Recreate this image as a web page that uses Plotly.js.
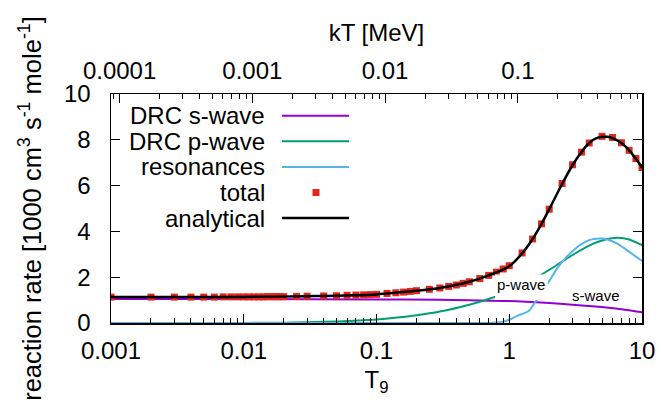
<!DOCTYPE html>
<html>
<head>
<meta charset="utf-8">
<script src="https://cdn.plot.ly/plotly-3.0.1.min.js"></script>
<style>html,body{margin:0;padding:0;background:#fff;}#chart{width:661px;height:403px;}</style>
</head>
<body>
<div id="chart"></div>
<script>
// ---- data ----
const sT9 = [0.001, 0.01, 0.1, 0.3, 0.5, 1, 2, 3, 5, 7, 10];
const sWave = [1.05, 1.05, 1.03, 1.01, 0.99, 0.96, 0.87, 0.80, 0.70, 0.60, 0.47];

const pT9 = [0.001, 0.005, 0.01, 0.02, 0.03, 0.05, 0.1, 0.2, 0.3, 0.5, 0.7, 1, 1.5, 2, 2.5, 3, 4, 5, 6.5, 8, 10];
const pWave = [0, 0.001, 0.005, 0.015, 0.03, 0.07, 0.15, 0.34, 0.5, 0.8, 1.05, 1.36, 1.88, 2.32, 2.68, 2.97, 3.38, 3.6, 3.72, 3.65, 3.40];

const rT9 = [0.001, 0.1, 0.5, 0.7, 0.8, 0.9, 1.0, 1.1, 1.2, 1.4, 1.6, 1.8, 2.0, 2.3, 2.7, 3.0, 3.4, 4.0, 4.5, 5.0, 5.5, 6.5, 8, 10];
const resonances = [0, 0, 0, 0.005, 0.02, 0.06, 0.14, 0.26, 0.36, 0.52, 0.99, 1.45, 1.83, 2.4, 2.88, 3.13, 3.40, 3.62, 3.68, 3.69, 3.65, 3.47, 3.11, 2.71];

const tT9 = [0.001, 0.002, 0.003, 0.004, 0.005, 0.006, 0.007, 0.008, 0.009,
  0.010, 0.011, 0.012, 0.013, 0.014, 0.015, 0.016, 0.017, 0.018, 0.019, 0.020,
  0.025, 0.03, 0.04, 0.05, 0.06, 0.07, 0.08, 0.09,
  0.10, 0.12, 0.14, 0.16, 0.18, 0.20, 0.25, 0.30, 0.35, 0.40, 0.45, 0.50, 0.60, 0.70, 0.80, 0.90,
  1.0, 1.25, 1.5, 1.75, 2.0, 2.5, 3.0, 3.5, 4.0, 5.0, 6.0, 7.0, 8.0, 9.0, 10.0];
const total = [1.13, 1.13, 1.13, 1.13, 1.13, 1.13, 1.14, 1.14, 1.14,
  1.14, 1.14, 1.14, 1.14, 1.14, 1.15, 1.15, 1.15, 1.15, 1.15, 1.15,
  1.16, 1.17, 1.18, 1.19, 1.21, 1.22, 1.23, 1.24,
  1.25, 1.29, 1.32, 1.35, 1.38, 1.41, 1.47, 1.53, 1.60, 1.66, 1.73, 1.80, 1.94, 2.08, 2.22, 2.36,
  2.50, 3.06, 3.67, 4.33, 4.97, 6.09, 6.91, 7.46, 7.86, 8.15, 8.10, 7.87, 7.54, 7.18, 6.79];

const aT9 = [0.001, 0.003, 0.01, 0.03, 0.1, 0.2, 0.3, 0.5, 0.7, 1, 1.25, 1.5, 1.75, 2, 2.5, 3, 3.5, 4, 4.5, 5, 5.5, 6, 7, 8, 9, 10];
const analytical = [1.13, 1.13, 1.14, 1.17, 1.25, 1.41, 1.53, 1.80, 2.08, 2.48, 3.04, 3.67, 4.33, 4.97, 6.07, 6.90, 7.47, 7.86, 8.06, 8.13, 8.13, 8.07, 7.86, 7.54, 7.17, 6.79];

const xTicks = [0.001, 0.01, 0.1, 1, 10];
const xTickText = ["0.001", "0.01", "0.1", "1", "10"];
const kTTicks = [0.0001, 0.001, 0.01, 0.1];
const kTTickText = ["0.0001", "0.001", "0.01", "0.1"];
const kTperT9 = 0.08617; // MeV per 10^9 K

const legendNames = ["DRC s-wave", "DRC p-wave", "resonances", "total", "analytical"];
const colors = {s: "#9400d3", p: "#009e73", r: "#56b4e9", t: "#e5261c", a: "#000000"};

// ---- minor tick lists ----
function minors(lo, hi) {
  const out = [];
  for (let e = lo; e <= hi; e++) for (let m = 2; m <= 9; m++) out.push(m * Math.pow(10, e));
  return out;
}
const xMinor = minors(-3, 0);
const kTMinor = [0.00009].concat(minors(-4, -1).filter(v => v < 0.862));

const FONT = "Liberation Sans, Arial, Helvetica, sans-serif";

const traces = [
  {x: sT9, y: sWave, mode: "lines", line: {color: colors.s, width: 2, shape: "spline", smoothing: 0.8}, name: legendNames[0]},
  {x: pT9, y: pWave, mode: "lines", line: {color: colors.p, width: 2, shape: "spline", smoothing: 0.8}, name: legendNames[1]},
  {x: rT9, y: resonances, mode: "lines", line: {color: colors.r, width: 2, shape: "spline", smoothing: 0.8}, name: legendNames[2]},
  {x: tT9, y: total, mode: "markers", marker: {symbol: "square", size: 7, color: colors.t}, name: legendNames[3]},
  {x: aT9, y: analytical, mode: "lines", line: {color: colors.a, width: 2.5, shape: "spline", smoothing: 0.8}, name: legendNames[4]},
  {x: tT9.map(v => v * kTperT9), y: total, xaxis: "x2", mode: "markers", marker: {opacity: 0}, hoverinfo: "skip", showlegend: false}
];

// custom gnuplot-style legend (text right-aligned, sample to the right)
const L = 111, W = 531, T = 94, H = 229;
const px = v => (v - L) / W;
const py = v => (T + H - v) / H;
const rowsY = [115.7, 141.3, 166.9, 192.5, 218.1];
const annotations = legendNames.map((n, i) => ({
  xref: "paper", yref: "paper", x: px(267), y: py(rowsY[i]), xanchor: "right", yanchor: "middle",
  text: n, showarrow: false, font: {family: FONT, size: 24, color: "#000"}
}));
annotations.push({x: Math.log10(1.23), y: 1.70, xref: "x", yref: "y", text: "p-wave", showarrow: false,
  font: {family: FONT, size: 15, color: "#000"}});
annotations.push({x: Math.log10(4.5), y: 1.18, xref: "x", yref: "y", text: "s-wave", showarrow: false,
  font: {family: FONT, size: 15, color: "#000"}});

const shapes = [
  [colors.s, 2], [colors.p, 2], [colors.r, 2]
].map((c, i) => ({type: "line", xref: "paper", yref: "paper", x0: px(282), x1: px(349), y0: py(rowsY[i]), y1: py(rowsY[i]), line: {color: c[0], width: c[1]}}));
shapes.push({type: "rect", xref: "paper", yref: "paper", x0: px(312.5), x1: px(319.5), y0: py(rowsY[3] + 3.5), y1: py(rowsY[3] - 3.5), fillcolor: colors.t, line: {width: 0}});
shapes.push({type: "line", xref: "paper", yref: "paper", x0: px(282), x1: px(349), y0: py(rowsY[4]), y1: py(rowsY[4]), line: {color: colors.a, width: 2.5}});
// white background behind the "p-wave" label
shapes.push({type: "rect", xref: "paper", yref: "paper", layer: "above", x0: px(495), x1: px(548), y0: py(300), y1: py(274.5), fillcolor: "#ffffff", line: {width: 0}});

const axisCommon = {showgrid: false, zeroline: false, showline: true, linecolor: "#000", linewidth: 1.5,
  ticks: "inside", ticklen: 9, tickwidth: 1, tickcolor: "#000", tickfont: {family: FONT, size: 24, color: "#000"}};

const layout = {
  width: 661, height: 403,
  margin: {l: L, r: 661 - L - W, t: T, b: 403 - T - H, pad: 0},
  paper_bgcolor: "#fff", plot_bgcolor: "#fff",
  showlegend: false,
  font: {family: FONT, color: "#000"},
  xaxis: Object.assign({}, axisCommon, {
    type: "log", range: [-3, 1], tickmode: "array", tickvals: xTicks, ticktext: xTickText,
    mirror: false, ticklabelstandoff: 6,
    minor: {tickmode: "array", tickvals: xMinor, ticks: "inside", ticklen: 5, tickwidth: 1, tickcolor: "#000", showgrid: false},
    title: {text: "T<sub>9</sub>", font: {family: FONT, size: 24, color: "#000"}, standoff: 8}
  }),
  xaxis2: Object.assign({}, axisCommon, {
    type: "log", overlaying: "x", side: "top", anchor: "y",
    range: [Math.log10(0.001 * kTperT9), Math.log10(10 * kTperT9)],
    tickmode: "array", tickvals: kTTicks, ticktext: kTTickText, ticklabelstandoff: 4,
    minor: {tickmode: "array", tickvals: kTMinor, ticks: "inside", ticklen: 5, tickwidth: 1, tickcolor: "#000", showgrid: false},
    title: {text: "kT [MeV]", font: {family: FONT, size: 24, color: "#000"}, standoff: 8}
  }),
  yaxis: Object.assign({}, axisCommon, {
    range: [0, 10], tickmode: "array", tickvals: [0, 2, 4, 6, 8, 10], mirror: "ticks", ticklabelstandoff: 14,
    title: {text: "reaction rate [1000 cm<sup>3</sup> s<sup>-1</sup> mole<sup>-1</sup>]", font: {family: FONT, size: 25.5, color: "#000"}, standoff: 15}
  }),
  annotations: annotations,
  shapes: shapes
};

Plotly.newPlot("chart", traces, layout, {staticPlot: true, displayModeBar: false});
</script>
</body>
</html>
